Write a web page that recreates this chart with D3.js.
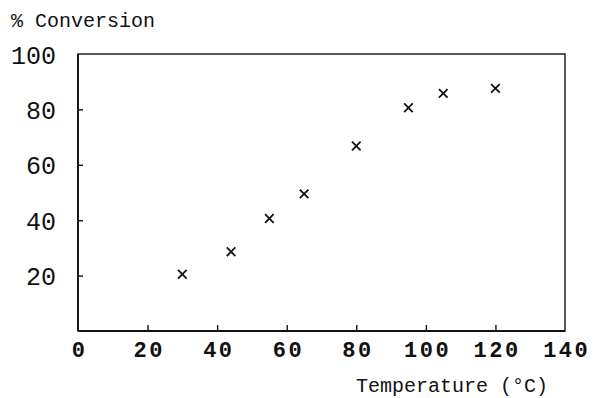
<!DOCTYPE html>
<html><head><meta charset="utf-8">
<script src="https://cdn.jsdelivr.net/npm/d3@7"></script>
<style>body{margin:0;background:#fff}svg{display:block}</style>
</head><body>
<script>
const temperature = [30, 44, 55, 65, 80, 95, 105, 120];
const conversion = [20.5, 28.6, 40.6, 49.5, 66.8, 80.6, 85.8, 87.6];
const xTicks = [0, 20, 40, 60, 80, 100, 120, 140];
const xTickLabels = ["0", "20", "40", "60", "80", "100", "120", "140"];
const yTicks = [20, 40, 60, 80, 100];

const W = 611, H = 398;
const m = {left: 78, top: 54, right: 565, bottom: 331};
const svg = d3.select("body").append("svg").attr("width", W).attr("height", H);
const x = d3.scaleLinear().domain([0, 140]).range([m.left, m.right]);
const y = d3.scaleLinear().domain([0, 100]).range([m.bottom, m.top]);

// frame
svg.append("rect").attr("x", m.left).attr("y", m.top)
  .attr("width", m.right - m.left).attr("height", m.bottom - m.top)
  .attr("fill", "none").attr("stroke", "#111").attr("stroke-width", 1.4);
svg.append("line").attr("x1", m.left).attr("x2", m.right).attr("y1", m.bottom).attr("y2", m.bottom)
  .attr("stroke", "#111").attr("stroke-width", 2);
svg.append("line").attr("x1", m.left).attr("x2", m.left).attr("y1", m.top).attr("y2", m.bottom)
  .attr("stroke", "#111").attr("stroke-width", 1.8);

// x axis
const xa = d3.axisBottom(x).tickValues(xTicks).tickSize(-6).tickPadding(0)
  .tickFormat((d, i) => xTickLabels[i]);
const gx = svg.append("g").attr("transform", `translate(0,${m.bottom})`).call(xa);
gx.select(".domain").remove();
gx.selectAll(".tick line").attr("stroke", "#111").attr("stroke-width", 1.4)
  .filter(d => d === 0 || d === 140).remove();
gx.selectAll(".tick text").attr("fill", "#111").attr("dy", null).attr("y", 26).attr("dx", 1.2)
  .style("font-family", "'Liberation Mono', monospace").style("font-size", "22px")
  .style("font-weight", "bold").style("letter-spacing", "2.5px");

// y axis
const ya = d3.axisLeft(y).tickValues(yTicks).tickSize(-5).tickPadding(0);
const gy = svg.append("g").attr("transform", `translate(${m.left},0)`).call(ya);
gy.select(".domain").remove();
gy.selectAll(".tick line").attr("stroke", "#111").attr("stroke-width", 1.4)
  .filter(d => d === 100).remove();
gy.selectAll(".tick text").attr("fill", "#111").attr("x", -22).attr("dy", "0.36em")
  .style("font-family", "'Liberation Mono', monospace").style("font-size", "25px");

// markers
const s = 4.3;
const pts = temperature.map((t, i) => [t, conversion[i]]);
const gm = svg.append("g").attr("stroke", "#111").attr("stroke-width", 1.8);
gm.selectAll("path").data(pts).join("path")
  .attr("d", d => {
    const cx = x(d[0]), cy = y(d[1]);
    return `M${cx - s},${cy - s}L${cx + s},${cy + s}M${cx - s},${cy + s}L${cx + s},${cy - s}`;
  });

// titles
svg.append("text").attr("x", 11).attr("y", 27).text("% Conversion")
  .style("font-family", "'Liberation Mono', monospace").style("font-size", "20px").attr("fill", "#111");
svg.append("text").attr("x", 356).attr("y", 392).text("Temperature (°C)")
  .style("font-family", "'Liberation Mono', monospace").style("font-size", "20px").attr("fill", "#111");
</script>
</body></html>
